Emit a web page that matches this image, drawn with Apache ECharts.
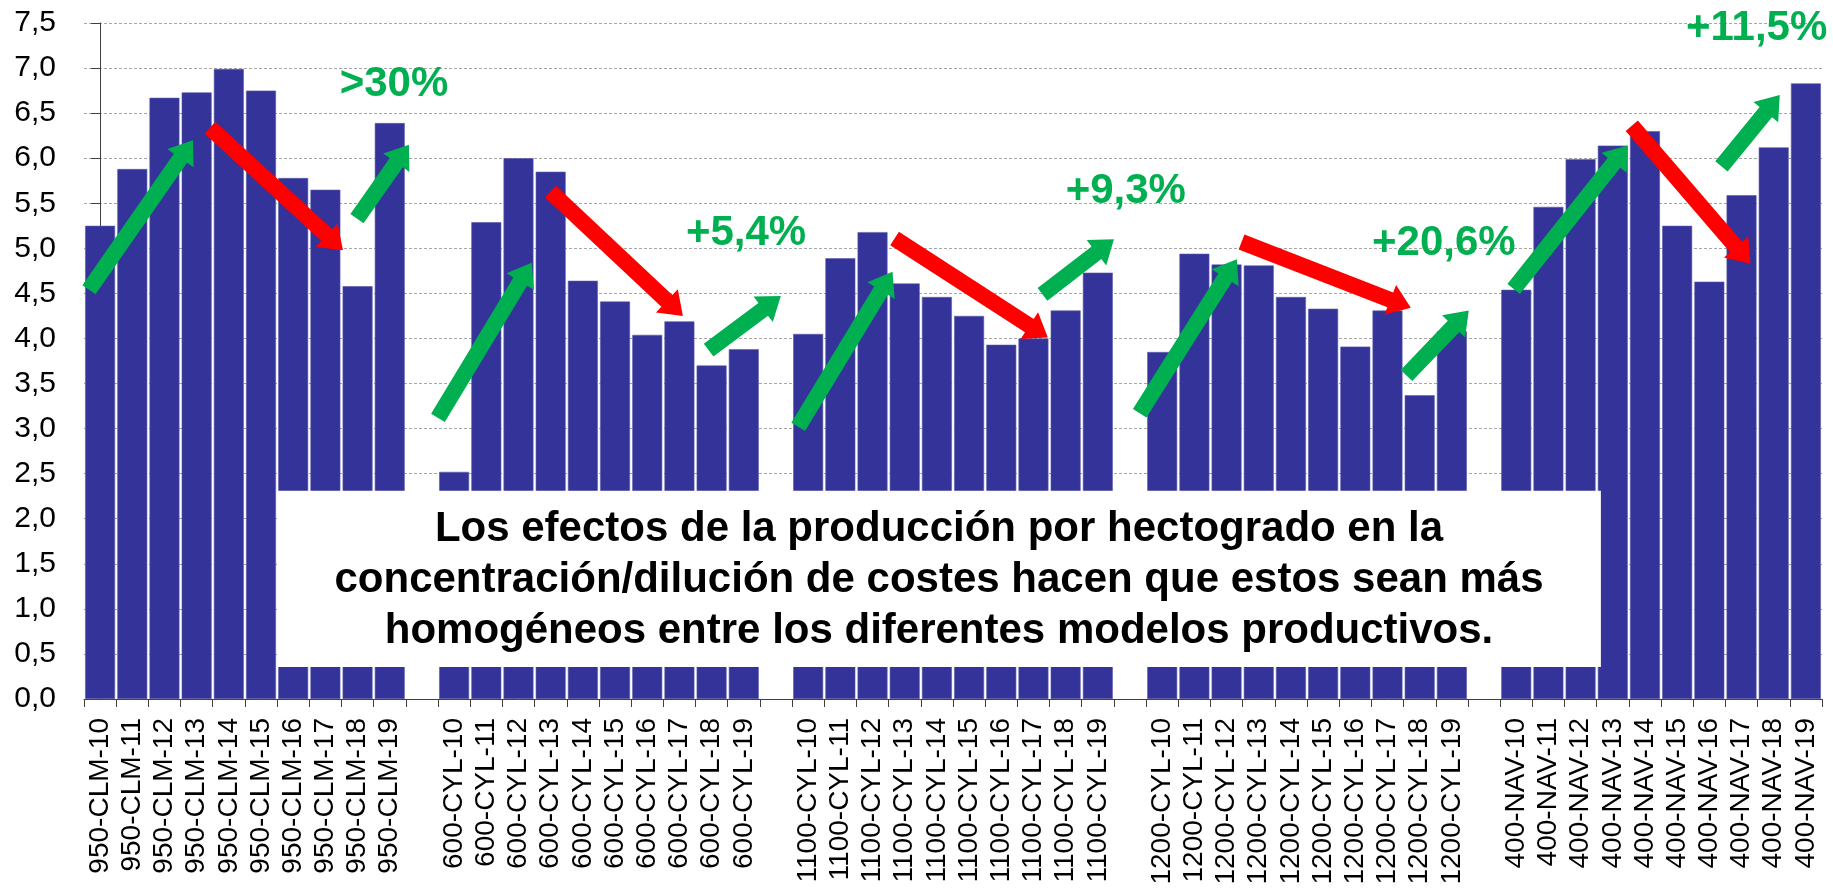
<!DOCTYPE html>
<html>
<head>
<meta charset="utf-8">
<script src="https://cdn.jsdelivr.net/npm/echarts@6/dist/echarts.min.js"></script>
<style>
html,body{margin:0;padding:0;background:#fff;}
#c{width:1833px;height:890px;}
</style>
</head>
<body>
<div id="c"></div>
<script>
// ---- data ----
const groups = ['950-CLM', '600-CYL', '1100-CYL', '1200-CYL', '400-NAV'];
const years = ['10','11','12','13','14','15','16','17','18','19'];
const clm     = [5.25, 5.88, 6.67, 6.73, 6.99, 6.75, 5.78, 5.65, 4.58, 6.39];
const cyl600  = [2.52, 5.29, 6.00, 5.85, 4.64, 4.41, 4.04, 4.19, 3.70, 3.88];
const cyl1100 = [4.05, 4.89, 5.18, 4.61, 4.46, 4.25, 3.93, 4.00, 4.31, 4.73];
const cyl1200 = [3.85, 4.94, 4.82, 4.81, 4.46, 4.33, 3.91, 4.31, 3.37, 4.08];
const nav     = [4.54, 5.46, 5.99, 6.14, 6.30, 5.25, 4.63, 5.59, 6.12, 6.83];
const yTicks  = [0, 0.5, 1, 1.5, 2, 2.5, 3, 3.5, 4, 4.5, 5, 5.5, 6, 6.5, 7, 7.5];

// annotation arrows in data units [x1, y1, x2, y2] (x = category index)
const arrowsUp = [
  [-0.345, 4.54, 2.886, 6.20],
  [7.981, 5.33, 9.596, 6.15],
  [10.497, 3.12, 13.408, 4.84],
  [18.907, 3.87, 21.15, 4.47],
  [21.69, 3.02, 24.62, 4.74],
  [29.28, 4.49, 31.5, 5.10],
  [32.30, 3.17, 35.32, 4.88],
  [40.59, 3.59, 42.526, 4.31],
  [43.92, 4.55, 47.465, 6.14],
  [50.376, 5.91, 52.187, 6.70]
];
const arrowsDown = [
  [3.414, 6.34, 7.546, 4.98],
  [13.995, 5.63, 18.108, 4.25],
  [24.685, 5.11, 29.447, 4.01],
  [35.465, 5.07, 40.724, 4.34],
  [47.59, 6.36, 51.277, 4.83]
];
const pctText = ['>30%', '+5,4%', '+9,3%', '+20,6%', '+11,5%'];
const pctX    = [9.13, 20.07, 31.87, 41.75, 51.47];
const pctY    = [6.82, 5.16, 5.63, 5.05, 7.44];
const boxText = 'Los efectos de la producción por hectogrado en la\nconcentración/dilución de costes hacen que estos sean más\nhomogéneos entre los diferentes modelos productivos.';
const boxArea = [[5.5, 2.31, 46.63, 0.355]];

// ---- build categories / values ----
const seriesByGroup = [clm, cyl600, cyl1100, cyl1200, nav];
const categories = [];
const values = [];
groups.forEach((g, gi) => {
  years.forEach((y, yi) => {
    categories.push(g + '-' + y);
    values.push(seriesByGroup[gi][yi]);
  });
  if (gi < groups.length - 1) {
    categories.push(' '.repeat(gi + 1));
    values.push(null);
  }
});

const FONT = '"Liberation Sans", Arial, sans-serif';

function arrowRender(color) {
  return function (params, api) {
    const a = api.coord([api.value(0), api.value(1)]);
    const b = api.coord([api.value(2), api.value(3)]);
    const dx = b[0] - a[0], dy = b[1] - a[1];
    const L = Math.hypot(dx, dy);
    const ux = dx / L, uy = dy / L;
    const nx = -uy, ny = ux;
    const w = 8, hw = 16, hl = 22;
    const bx = b[0] - ux * hl, by = b[1] - uy * hl;
    const pts = [
      [a[0] + nx * w, a[1] + ny * w],
      [bx + nx * w, by + ny * w],
      [bx + nx * hw, by + ny * hw],
      [b[0], b[1]],
      [bx - nx * hw, by - ny * hw],
      [bx - nx * w, by - ny * w],
      [a[0] - nx * w, a[1] - ny * w]
    ];
    return { type: 'polygon', shape: { points: pts }, style: { fill: color } };
  };
}

const chart = echarts.init(document.getElementById('c'));
chart.setOption({
  animation: false,
  backgroundColor: '#ffffff',
  grid: { left: 84, right: 11, top: 23, bottom: 191, containLabel: false },
  xAxis: [
    {
      type: 'category',
      data: categories,
      axisLine: { lineStyle: { color: '#404040', width: 1 } },
      axisTick: { show: true, interval: 0, length: 8, lineStyle: { color: '#404040' } },
      axisLabel: { interval: 0, rotate: 90, margin: 19, fontSize: 28, color: '#000', fontFamily: FONT },
      splitLine: { show: false }
    },
    {
      type: 'value', min: -0.5, max: 53.5, show: false
    }
  ],
  yAxis: {
    type: 'value',
    min: 0, max: 7.5, interval: 0.5,
    axisLine: { show: true, lineStyle: { color: '#404040', width: 1 } },
    axisTick: { show: true, length: 9, lineStyle: { color: '#404040' } },
    axisLabel: {
      margin: 28, fontSize: 30, color: '#000', fontFamily: FONT,
      formatter: v => v.toFixed(1).replace('.', ',')
    },
    splitLine: { show: true, lineStyle: { color: '#a6a6a6', type: [3, 2], width: 1 } }
  },
  series: [
    {
      type: 'bar',
      data: values,
      barWidth: '93%',
      itemStyle: { color: '#333399', borderColor: '#5a5aaa', borderWidth: 0.6 },
      z: 2
    },
    {
      type: 'custom',
      xAxisIndex: 1,
      data: boxArea,
      encode: { x: [0, 2], y: [1, 3] },
      z: 5,
      renderItem: function (params, api) {
        const p1 = api.coord([api.value(0), api.value(1)]);
        const p2 = api.coord([api.value(2), api.value(3)]);
        return {
          type: 'group',
          children: [
            { type: 'rect', shape: { x: p1[0], y: p1[1], width: p2[0] - p1[0], height: p2[1] - p1[1] },
              style: { fill: '#ffffff' } },
            { type: 'text', style: {
                text: boxText, x: (p1[0] + p2[0]) / 2, y: (p1[1] + p2[1]) / 2 + 2,
                align: 'center', verticalAlign: 'middle',
                font: 'bold 42px ' + FONT, lineHeight: 51, fill: '#000000' } }
          ]
        };
      }
    },
    {
      type: 'custom',
      xAxisIndex: 1,
      data: arrowsUp,
      encode: { x: [0, 2], y: [1, 3] },
      z: 6,
      renderItem: arrowRender('#00B050')
    },
    {
      type: 'custom',
      xAxisIndex: 1,
      data: arrowsDown,
      encode: { x: [0, 2], y: [1, 3] },
      z: 6,
      renderItem: arrowRender('#FF0000')
    },
    {
      type: 'custom',
      xAxisIndex: 1,
      data: pctX.map((x, i) => [x, pctY[i]]),
      z: 7,
      renderItem: function (params, api) {
        const p = api.coord([api.value(0), api.value(1)]);
        return { type: 'text', style: {
          text: pctText[params.dataIndex], x: p[0], y: p[1],
          align: 'center', verticalAlign: 'middle',
          font: 'bold 42px ' + FONT, fill: '#00B050' } };
      }
    }
  ]
});
</script>
</body>
</html>
